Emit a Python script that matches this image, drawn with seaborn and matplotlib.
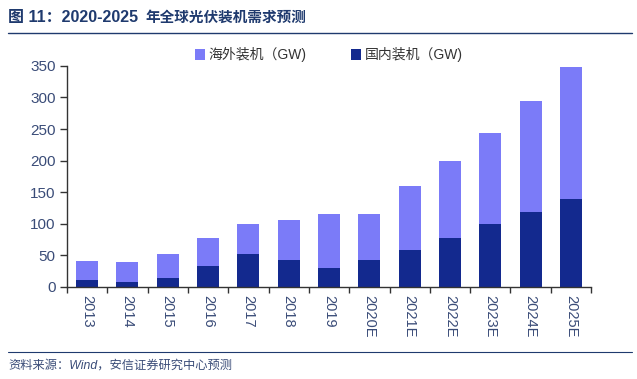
"""
2020-2025 global PV installation demand forecast, stacked bars.
"""

import matplotlib
matplotlib.use('Agg')
import matplotlib.pyplot as plt
import seaborn as sns
import pandas as pd
import numpy as np

years = ['2013', '2014', '2015', '2016', '2017', '2018', '2019',
         '2020E', '2021E', '2022E', '2023E', '2024E', '2025E']
domestic = [11, 7, 14, 33, 52, 43, 29, 43, 58, 78, 99, 118, 139]
overseas = [29, 32, 38, 44, 48, 62, 87, 73, 102, 122, 145, 177, 210]
yticks = [0, 50, 100, 150, 200, 250, 300, 350]

LIGHT = '#7B7BF8'
DARK = '#13298E'
TEXT = '#3A4C78'
NAVY = '#1F3A6E'

sns.set_theme(style='white')
plt.rcParams['font.family'] = ['Liberation Sans', 'Noto Sans CJK SC']

df = pd.DataFrame({'year': years, 'domestic': domestic, 'overseas': overseas})
df['total'] = df['domestic'] + df['overseas']

fig = plt.figure(figsize=(6.37, 3.79), dpi=100)
ax = fig.add_axes([0.105, 0.2435, 0.823, 0.5825])

# stacked: draw totals first, domestic on top
sns.barplot(data=df, x='year', y='total', color=LIGHT, width=0.55,
            saturation=1, linewidth=0, ax=ax, label='海外装机（GW)')
sns.barplot(data=df, x='year', y='domestic', color=DARK, width=0.55,
            saturation=1, linewidth=0, ax=ax, label='国内装机（GW)')

ax.set_xlim(-0.5, len(years) - 0.5)
ax.set_ylim(0, 350)
ax.set_yticks(yticks)
ax.set_xlabel('')
ax.set_ylabel('')

for s in ['top', 'right']:
    ax.spines[s].set_visible(False)
for s in ['left', 'bottom']:
    ax.spines[s].set_color('#333333')
    ax.spines[s].set_linewidth(1.0)

ax.set_xticks(np.arange(len(years)))
ax.set_xticklabels(years, rotation=-90, fontsize=10.5, color=TEXT)
ax.set_xticks(np.arange(len(years) + 1) - 0.5, minor=True)
ax.tick_params(axis='x', which='major', length=0, pad=6)
ax.tick_params(axis='x', which='minor', length=4, width=1, color='#333333',
               direction='out', bottom=True)
ax.tick_params(axis='y', length=5, width=1, color='#333333', direction='out',
               left=True, labelsize=11, labelcolor=TEXT, pad=3)

ax.legend(loc='center', bbox_to_anchor=(0.5, 1.05), ncol=2, frameon=False,
          fontsize=10, handlelength=0.7, handleheight=0.9, columnspacing=3.2,
          handletextpad=0.3, borderaxespad=0.0, labelcolor='#333333')

# title: bold figure number, then the Chinese part a little smaller
t1 = fig.text(0.013, 0.953, '图 11：2020-2025', fontsize=11.5,
              fontweight='bold', color=NAVY, va='center', ha='left')
ax.annotate('年全球光伏装机需求预测', xy=(1, 0.5), xycoords=t1,
            xytext=(5, 0), textcoords='offset points', fontsize=10.5,
            fontweight='bold', color=NAVY, va='center', ha='left',
            annotation_clip=False)

fig.add_artist(plt.Line2D([0.013, 0.992], [0.913, 0.913], color=NAVY, lw=1.0))
fig.add_artist(plt.Line2D([0.013, 0.992], [0.072, 0.072], color=NAVY, lw=0.8))
fig.text(0.013, 0.035, '资料来源：Wind，安信证券研究中心预测', fontsize=8.8,
         fontstyle='italic', color=TEXT, va='center', ha='left')

fig.savefig('out.png', dpi=100)
